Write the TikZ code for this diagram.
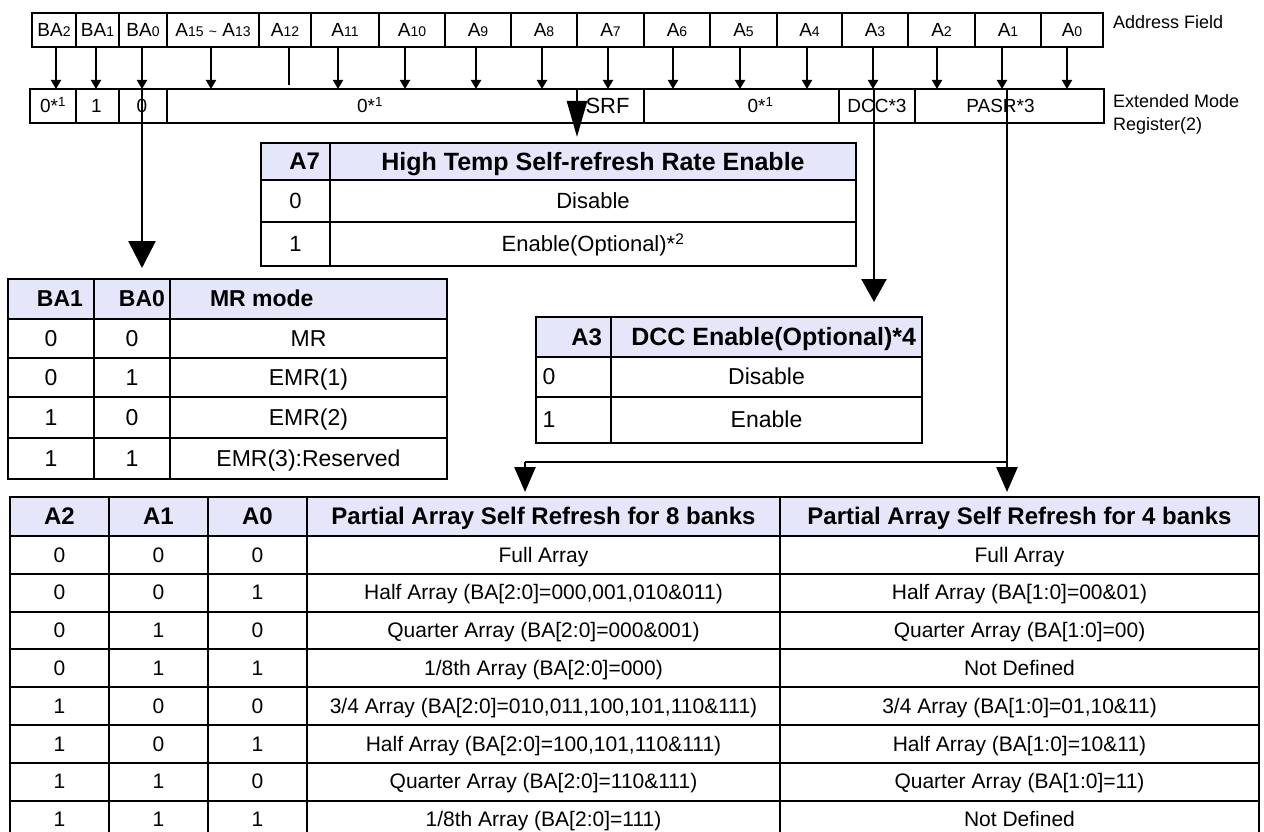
\documentclass[tikz,border=0pt]{standalone}
\usepackage{fontspec}
\setmainfont{Liberation Sans}
\usetikzlibrary{arrows.meta}
\definecolor{hdrfill}{RGB}{230,230,250}
\newcommand\fs[1]{\fontsize{#1}{#1}\selectfont}
\newcommand\sm[1]{{\fs{14}#1}}
\newcommand\ct[1]{\vphantom{0}\smash{#1}}
\newcommand\tcell[7][]{\node[cellbox,#1,minimum width={(#5-#3)*1pt},minimum height={(#6-#4)*1pt},anchor=north west] (#2) at (#3,#4) {\ct{#7}};}
\newcommand\brow[8]{%
\tcell[font=\fs{21}]{#1a}{10}{#2}{109}{#3}{#4}%
\tcell[font=\fs{21}]{#1b}{109}{#2}{208}{#3}{#5}%
\tcell[font=\fs{21}]{#1c}{208}{#2}{307}{#3}{#6}%
\tcell[font=\fs{21}]{#1d}{307}{#2}{780}{#3}{#7}%
\tcell[font=\fs{21}]{#1e}{780}{#2}{1259}{#3}{#8}}
\newcommand\mrrow[6]{%
\tcell[font=\fs{23}]{#1a}{8}{#2}{94}{#3}{#4}%
\tcell[font=\fs{23}]{#1b}{94}{#2}{170}{#3}{#5}%
\tcell[font=\fs{23}]{#1c}{170}{#2}{447}{#3}{#6}}
\newcommand\sa[2]{\path ([xshift=#2pt]#1.south) coordinate (#1s); \draw[sarr] (#1s) -- (#1s |- e1.north);}
\begin{document}
\begin{tikzpicture}[x=1pt,y=-1pt,
  cellbox/.style={draw,line width=2pt,inner sep=0pt,outer sep=0pt},
  hdr/.style={fill=hdrfill},
  lbl/.style={inner sep=0pt,outer sep=0pt},
  sarr/.style={draw,line width=2pt,-{Triangle[width=10pt,length=9pt]}},
  plainln/.style={draw,line width=2pt},
  bigln/.style={draw,line width=2.6pt},
  arrmr/.style={bigln,-{Triangle[width=27pt,length=27pt]}},
  arrdcc/.style={bigln,-{Triangle[width=25pt,length=23pt]}},
  arrbot/.style={bigln,-{Triangle[width=21pt,length=25pt]}},
  arrsrf/.style={bigln,-{Triangle[width=20pt,length=36pt]}},
  ]
\useasboundingbox (0,0) rectangle (1264,832);
\clip (0,0) rectangle (1264,832);

% ---------- Address field ----------
\tcell[font=\fs{19}]{aba2}{32}{13}{76}{47}{BA\sm{2}}
\tcell[font=\fs{19}]{aba1}{76}{13}{119}{47}{BA\sm{1}}
\tcell[font=\fs{19}]{aba0}{119}{13}{167}{47}{BA\sm{0}}
\tcell[font=\fs{19}]{aa15}{167}{13}{259}{47}{A\sm{15} \sm{\textasciitilde} A\sm{13}}
\tcell[font=\fs{19}]{aa12}{259}{13}{311}{47}{A\sm{12}}
\tcell[font=\fs{19}]{aa11}{311}{13}{379}{47}{A\sm{11}}
\tcell[font=\fs{19}]{aa10}{379}{13}{445}{47}{A\sm{10}}
\tcell[font=\fs{19}]{aa9}{445}{13}{511}{47}{A\sm{9}}
\tcell[font=\fs{19}]{aa8}{511}{13}{577}{47}{A\sm{8}}
\tcell[font=\fs{19}]{aa7}{577}{13}{644}{47}{A\sm{7}}
\tcell[font=\fs{19}]{aa6}{644}{13}{710}{47}{A\sm{6}}
\tcell[font=\fs{19}]{aa5}{710}{13}{777}{47}{A\sm{5}}
\tcell[font=\fs{19}]{aa4}{777}{13}{842}{47}{A\sm{4}}
\tcell[font=\fs{19}]{aa3}{842}{13}{908}{47}{A\sm{3}}
\tcell[font=\fs{19}]{aa2}{908}{13}{975}{47}{A\sm{2}}
\tcell[font=\fs{19}]{aa1}{975}{13}{1041}{47}{A\sm{1}}
\tcell[font=\fs{19}]{aa0}{1041}{13}{1103}{47}{A\sm{0}}
\node[lbl,font=\fs{18},anchor=west] (laf) at (1113,22) {\ct{Address Field}};

% ---------- Extended mode register ----------
\tcell{e1}{30}{89}{76}{123}{}
\tcell{e2}{76}{89}{119}{123}{}
\tcell{e3}{119}{89}{167}{123}{}
\tcell{e4}{167}{89}{577}{123}{}
\tcell{esrf}{577}{89}{644}{123}{}
\tcell{e6}{644}{89}{839}{123}{}
\tcell{edcc}{839}{89}{915}{123}{}
\tcell{epasr}{915}{89}{1104}{123}{}
\node[lbl,font=\fs{19}] (te1) at (e1) {\ct{0*\textsuperscript{1}}};
\node[lbl,font=\fs{19}] (te2) at ([xshift=-1pt]e2) {\ct{1}};
\node[lbl,font=\fs{19}] (te3) at ([xshift=-1pt]e3) {\ct{0}};
\node[lbl,font=\fs{19}] (te4) at ([xshift=-2pt]e4) {\ct{0*\textsuperscript{1}}};
\node[lbl,font=\fs{22}] (tsrf) at ([xshift=-3pt]esrf) {\ct{SRF}};
\node[lbl,font=\fs{19}] (te6) at ([xshift=19pt]e6) {\ct{0*\textsuperscript{1}}};
\node[lbl,font=\fs{19}] (tdcc) at (edcc) {\ct{DCC*3}};
\node[lbl,font=\fs{19}] (tpasr) at ([xshift=-9pt]epasr) {\ct{PASR*3}};
\node[lbl,font=\fs{18},anchor=west] (lemr1) at (1113,101) {\ct{Extended Mode}};
\node[lbl,font=\fs{18},anchor=west] (lemr2) at (1113,124) {\ct{Register(2)}};

% ---------- small arrows ----------
\sa{aba2}{2}
\sa{aba1}{-1.5}
\sa{aba0}{-1}
\sa{aa15}{-2}
\sa{aa11}{-7}
\sa{aa10}{-7}
\sa{aa9}{-2}
\sa{aa8}{-2}
\sa{aa7}{-2.5}
\sa{aa6}{-4}
\sa{aa5}{-3.5}
\sa{aa4}{-2.5}
\sa{aa3}{-2}
\sa{aa2}{-4.5}
\sa{aa1}{-6}
\sa{aa0}{-5}
\path ([xshift=4pt]aa12.south) coordinate (a12s);
\path (a12s |- e1.north) coordinate (a12x);
\draw[plainln] (a12s) -- ([yshift=4pt]a12x);

% ---------- A7 table ----------
\tcell[hdr]{a7h1}{261}{143}{330}{180}{}
\tcell[hdr,font=\bfseries\fs{25}]{a7h2}{330}{143}{856}{180}{High Temp Self-refresh Rate Enable}
\node[lbl,font=\bfseries\fs{24},anchor=east] (a7t) at ([xshift=-10pt]a7h1.east) {\ct{A7}};
\tcell[font=\fs{22}]{a7r1a}{261}{180}{330}{222}{0}
\tcell[font=\fs{22}]{a7r1b}{330}{180}{856}{222}{Disable}
\tcell[font=\fs{22}]{a7r2a}{261}{222}{330}{266}{1}
\tcell[font=\fs{22}]{a7r2b}{330}{222}{856}{266}{Enable(Optional)*\textsuperscript{2}}

% ---------- MR table ----------
\tcell[hdr]{mrh1}{8}{279}{94}{319}{}
\tcell[hdr]{mrh2}{94}{279}{170}{319}{}
\tcell[hdr]{mrh3}{170}{279}{447}{319}{}
\node[lbl,font=\bfseries\fs{23},anchor=east] (mrt1) at ([xshift=-11pt]mrh1.east) {\ct{BA1}};
\node[lbl,font=\bfseries\fs{23},anchor=east] (mrt2) at ([xshift=-5pt]mrh2.east) {\ct{BA0}};
\node[lbl,font=\bfseries\fs{23},anchor=west] (mrt3) at ([xshift=40pt]mrh3.west) {\ct{MR mode}};
\mrrow{m1}{319}{358}{0}{0}{MR}
\mrrow{m2}{358}{397}{0}{1}{EMR(1)}
\mrrow{m3}{397}{438}{1}{0}{EMR(2)}
\mrrow{m4}{438}{479}{1}{1}{EMR(3):Reserved}

% ---------- A3 table ----------
\tcell[hdr]{a3h1}{536}{317}{611}{357}{}
\tcell[hdr]{a3h2}{611}{317}{922}{357}{}
\node[lbl,font=\bfseries\fs{24},anchor=east] (a3t1) at ([xshift=-9pt]a3h1.east) {\ct{A3}};
\node[lbl,font=\bfseries\fs{25},anchor=east] (a3t2) at ([xshift=-6pt]a3h2.east) {\ct{DCC Enable(Optional)*4}};
\tcell{a3r1a}{536}{357}{611}{397}{}
\tcell[font=\fs{23}]{a3r1b}{611}{357}{922}{397}{Disable}
\tcell{a3r2a}{536}{397}{611}{443}{}
\tcell[font=\fs{23}]{a3r2b}{611}{397}{922}{443}{Enable}
\node[lbl,font=\fs{23}] (a3d1) at ([xshift=13pt]a3r1a.west) {\ct{0}};
\node[lbl,font=\fs{23}] (a3d2) at ([xshift=13pt]a3r2a.west) {\ct{1}};

% ---------- bottom table ----------
\tcell[hdr,font=\bfseries\fs{24}]{bh1}{10}{497}{109}{536}{A2}
\tcell[hdr,font=\bfseries\fs{24}]{bh2}{109}{497}{208}{536}{A1}
\tcell[hdr,font=\bfseries\fs{24}]{bh3}{208}{497}{307}{536}{A0}
\tcell[hdr,font=\bfseries\fs{24}]{b8h}{307}{497}{780}{536}{Partial Array Self Refresh for 8 banks}
\tcell[hdr,font=\bfseries\fs{24}]{b4h}{780}{497}{1259}{536}{Partial Array Self Refresh for 4 banks}
\brow{r1}{536}{573.8}{0}{0}{0}{Full Array}{Full Array}
\brow{r2}{573.8}{611.6}{0}{0}{1}{Half Array (BA[2:0]=000,001,010\&011)}{Half Array (BA[1:0]=00\&01)}
\brow{r3}{611.6}{649.4}{0}{1}{0}{Quarter Array (BA[2:0]=000\&001)}{Quarter Array (BA[1:0]=00)}
\brow{r4}{649.4}{687.2}{0}{1}{1}{1/8th Array (BA[2:0]=000)}{Not Defined}
\brow{r5}{687.2}{725}{1}{0}{0}{3/4 Array (BA[2:0]=010,011,100,101,110\&111)}{3/4 Array (BA[1:0]=01,10\&11)}
\brow{r6}{725}{762.8}{1}{0}{1}{Half Array (BA[2:0]=100,101,110\&111)}{Half Array (BA[1:0]=10\&11)}
\brow{r7}{762.8}{800.6}{1}{1}{0}{Quarter Array (BA[2:0]=110\&111)}{Quarter Array (BA[1:0]=11)}
\brow{r8}{800.6}{838.4}{1}{1}{1}{1/8th Array (BA[2:0]=111)}{Not Defined}

% ---------- big connectors ----------
\path ([xshift=-1pt]e3.north) coordinate (ba0t);
\draw[arrmr,shorten >=11pt] (ba0t) -- (ba0t |- mrh2.north);
\draw[arrsrf,shorten >=6pt] (esrf.north west) -- (esrf.north west |- a7h2.north);
\path ([xshift=-3pt]edcc.north) coordinate (dcct);
\draw[arrdcc,shorten >=15pt] (dcct) -- (dcct |- a3h2.north);
\path ([xshift=-2.5pt]epasr.north) coordinate (pasrt);
\coordinate (jl) at (525,462);
\path (pasrt |- jl) coordinate (jr);
\draw[bigln] (pasrt) -- (jr) -- (jl);
\draw[arrbot,shorten >=5pt] (jr) -- (jr |- b4h.north);
\draw[arrbot,shorten >=5pt] (jl) -- (jl |- b8h.north);
\end{tikzpicture}
\end{document}
